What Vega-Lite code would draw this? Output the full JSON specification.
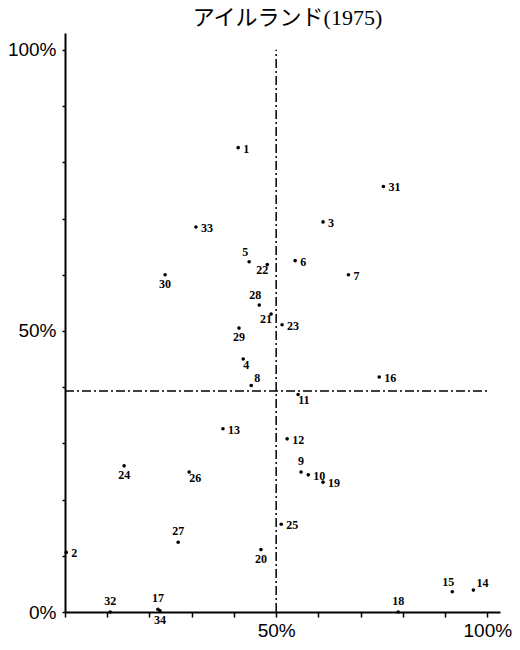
{
  "$schema": "https://vega.github.io/schema/vega-lite/v6.json",
  "autosize": {"type": "none"},
  "padding": {"left": 65, "top": 33, "right": 20, "bottom": 38},
  "width": 435,
  "height": 579,
  "background": "white",
  "title": {
    "text": "アイルランド(1975)",
    "font": "Liberation Serif, Noto Sans CJK JP",
    "fontSize": 22,
    "fontWeight": "normal",
    "color": "black",
    "anchor": "middle",
    "offset": 3,
    "dx": 5
  },
  "config": {
    "view": {"stroke": null},
    "axis": {"grid": false}
  },
  "datasets": {
    "points": [
      {"id": "1", "x": 41.0, "y": 82.6},
      {"id": "2", "x": 0.3, "y": 10.6},
      {"id": "3", "x": 61.1, "y": 69.4},
      {"id": "4", "x": 42.2, "y": 45.0},
      {"id": "5", "x": 43.6, "y": 62.3},
      {"id": "6", "x": 54.5, "y": 62.5},
      {"id": "7", "x": 67.1, "y": 60.0},
      {"id": "8", "x": 44.1, "y": 40.3},
      {"id": "9", "x": 55.9, "y": 24.9},
      {"id": "10", "x": 57.6, "y": 24.4},
      {"id": "11", "x": 55.2, "y": 38.7},
      {"id": "12", "x": 52.6, "y": 30.8},
      {"id": "13", "x": 37.4, "y": 32.6},
      {"id": "14", "x": 96.7, "y": 3.9},
      {"id": "15", "x": 91.7, "y": 3.6},
      {"id": "16", "x": 74.4, "y": 41.8},
      {"id": "17", "x": 22.0, "y": 0.5},
      {"id": "18", "x": 78.9, "y": 0.0},
      {"id": "19", "x": 61.1, "y": 23.1},
      {"id": "20", "x": 46.4, "y": 11.1},
      {"id": "21", "x": 48.8, "y": 53.0},
      {"id": "22", "x": 47.9, "y": 61.8},
      {"id": "23", "x": 51.4, "y": 51.1},
      {"id": "24", "x": 14.0, "y": 26.0},
      {"id": "25", "x": 51.2, "y": 15.6},
      {"id": "26", "x": 29.4, "y": 24.9},
      {"id": "27", "x": 26.8, "y": 12.4},
      {"id": "28", "x": 46.0, "y": 54.6},
      {"id": "29", "x": 41.2, "y": 50.5},
      {"id": "30", "x": 23.7, "y": 60.0},
      {"id": "31", "x": 75.4, "y": 75.7},
      {"id": "32", "x": 10.7, "y": 0.0},
      {"id": "33", "x": 31.0, "y": 68.5},
      {"id": "34", "x": 22.5, "y": 0.2}
    ],
    "vline": [{"x": 50, "y0": 0, "y1": 100}],
    "hline": [{"y": 39.3, "x0": 0, "x1": 100}]
  },
  "layer": [
    {
      "data": {"name": "vline"},
      "mark": {"type": "rule", "color": "black", "strokeWidth": 1.5, "strokeDash": [9, 3, 2, 3]},
      "encoding": {
        "x": {"field": "x", "type": "quantitative", "scale": {"domain": [0, 103], "nice": false}},
        "y": {"field": "y0", "type": "quantitative", "scale": {"domain": [0, 103], "nice": false}},
        "y2": {"field": "y1"}
      }
    },
    {
      "data": {"name": "hline"},
      "mark": {"type": "rule", "color": "black", "strokeWidth": 1.5, "strokeDash": [9, 3, 2, 3]},
      "encoding": {
        "y": {"field": "y", "type": "quantitative"},
        "x": {"field": "x0", "type": "quantitative"},
        "x2": {"field": "x1"}
      }
    },
    {
      "data": {"name": "points"},
      "mark": {"type": "circle", "color": "black", "opacity": 1, "size": 13},
      "encoding": {
        "x": {
          "field": "x", "type": "quantitative",
          "axis": {
            "title": null,
            "values": [0, 10, 20, 30, 40, 50, 60, 70, 80, 90, 100],
            "labelExpr": "datum.value == 50 || datum.value == 100 ? datum.value + '%' : ''",
            "domainColor": "black", "domainWidth": 2,
            "tickColor": "black", "tickSize": 5, "tickWidth": 1.5,
            "labelFont": "Liberation Sans", "labelFontSize": 19, "labelColor": "black",
            "labelPadding": 4, "labelFlush": false, "labelOverlap": false
          }
        },
        "y": {
          "field": "y", "type": "quantitative",
          "axis": {
            "title": null,
            "values": [0, 10, 20, 30, 40, 50, 60, 70, 80, 90, 100],
            "labelExpr": "datum.value == 0 || datum.value == 50 || datum.value == 100 ? datum.value + '%' : ''",
            "domainColor": "black", "domainWidth": 2,
            "tickColor": "black", "tickSize": 3, "tickWidth": 1.5,
            "labelFont": "Liberation Sans", "labelFontSize": 19, "labelColor": "black",
            "labelPadding": 6, "labelFlush": false, "labelOverlap": false
          }
        }
      }
    },
    {
      "data": {"name": "points"},
      "transform": [{"filter": {"field": "id", "oneOf": ["1", "31", "3", "33", "6", "7", "23", "16", "13", "12", "10", "19", "25", "2"]}}],
      "mark": {"type": "text", "align": "left", "baseline": "middle", "dx": 5, "dy": 1, "font": "Liberation Serif", "fontSize": 12, "fontWeight": "bold", "color": "black"},
      "encoding": {"x": {"field": "x", "type": "quantitative"}, "y": {"field": "y", "type": "quantitative"}, "text": {"field": "id"}}
    },
    {
      "data": {"name": "points"},
      "transform": [{"filter": {"field": "id", "oneOf": ["30", "29", "24", "20", "34"]}}],
      "mark": {"type": "text", "align": "center", "baseline": "top", "dy": 4, "font": "Liberation Serif", "fontSize": 12, "fontWeight": "bold", "color": "black"},
      "encoding": {"x": {"field": "x", "type": "quantitative"}, "y": {"field": "y", "type": "quantitative"}, "text": {"field": "id"}}
    },
    {
      "data": {"name": "points"},
      "transform": [{"filter": {"field": "id", "oneOf": ["27", "9", "18", "32", "17"]}}],
      "mark": {"type": "text", "align": "center", "baseline": "bottom", "dy": -4, "font": "Liberation Serif", "fontSize": 12, "fontWeight": "bold", "color": "black"},
      "encoding": {"x": {"field": "x", "type": "quantitative"}, "y": {"field": "y", "type": "quantitative"}, "text": {"field": "id"}}
    },
    {
      "data": {"name": "points"},
      "transform": [{"filter": {"field": "id", "oneOf": ["11", "26", "4"]}}],
      "mark": {"type": "text", "align": "left", "baseline": "top", "dx": 0, "dy": 1, "font": "Liberation Serif", "fontSize": 12, "fontWeight": "bold", "color": "black"},
      "encoding": {"x": {"field": "x", "type": "quantitative"}, "y": {"field": "y", "type": "quantitative"}, "text": {"field": "id"}}
    },
    {
      "data": {"name": "points"},
      "transform": [{"filter": {"field": "id", "oneOf": ["22", "21"]}}],
      "mark": {"type": "text", "align": "right", "baseline": "top", "dx": 1, "dy": 0, "font": "Liberation Serif", "fontSize": 12, "fontWeight": "bold", "color": "black"},
      "encoding": {"x": {"field": "x", "type": "quantitative"}, "y": {"field": "y", "type": "quantitative"}, "text": {"field": "id"}}
    },
    {
      "data": {"name": "points"},
      "transform": [{"filter": {"field": "id", "oneOf": ["5", "28", "15"]}}],
      "mark": {"type": "text", "align": "center", "baseline": "bottom", "dx": -4, "dy": -3, "font": "Liberation Serif", "fontSize": 12, "fontWeight": "bold", "color": "black"},
      "encoding": {"x": {"field": "x", "type": "quantitative"}, "y": {"field": "y", "type": "quantitative"}, "text": {"field": "id"}}
    },
    {
      "data": {"name": "points"},
      "transform": [{"filter": {"field": "id", "oneOf": ["14", "8"]}}],
      "mark": {"type": "text", "align": "left", "baseline": "bottom", "dx": 3, "dy": 0, "font": "Liberation Serif", "fontSize": 12, "fontWeight": "bold", "color": "black"},
      "encoding": {"x": {"field": "x", "type": "quantitative"}, "y": {"field": "y", "type": "quantitative"}, "text": {"field": "id"}}
    }
  ]
}
